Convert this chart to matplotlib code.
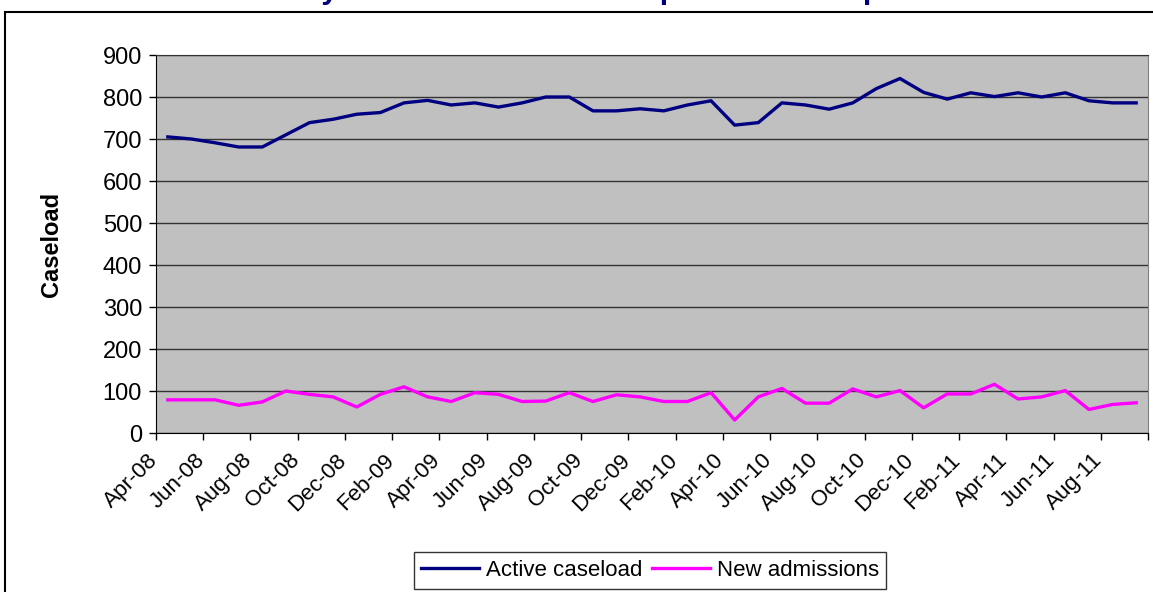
import numpy as np
import matplotlib
matplotlib.use('Agg')
import matplotlib.pyplot as plt
import matplotlib.transforms as mtransforms
from matplotlib.patches import Rectangle

plt.rcParams['font.family'] = ['Liberation Sans', 'DejaVu Sans']

# Data (monthly, Apr-08 to Sep-11)
months = ['Apr-08', 'May-08', 'Jun-08', 'Jul-08', 'Aug-08', 'Sep-08', 'Oct-08', 'Nov-08',
          'Dec-08', 'Jan-09', 'Feb-09', 'Mar-09', 'Apr-09', 'May-09', 'Jun-09', 'Jul-09',
          'Aug-09', 'Sep-09', 'Oct-09', 'Nov-09', 'Dec-09', 'Jan-10', 'Feb-10', 'Mar-10',
          'Apr-10', 'May-10', 'Jun-10', 'Jul-10', 'Aug-10', 'Sep-10', 'Oct-10', 'Nov-10',
          'Dec-10', 'Jan-11', 'Feb-11', 'Mar-11', 'Apr-11', 'May-11', 'Jun-11', 'Jul-11',
          'Aug-11', 'Sep-11']
active = [705, 700, 691, 681, 681, 710, 739, 747, 759, 763, 786, 792, 781, 786, 776, 786,
          800, 800, 767, 767, 772, 767, 781, 791, 733, 739, 786, 781, 771, 786, 820, 844,
          811, 795, 810, 801, 810, 800, 810, 791, 786, 786]
admissions = [79, 79, 79, 66, 74, 100, 92, 86, 62, 92, 110, 86, 75, 96, 92, 75,
              76, 96, 75, 91, 86, 75, 75, 96, 31, 86, 106, 71, 71, 105, 86, 101,
              60, 93, 93, 116, 81, 86, 101, 56, 68, 72]
y_ticks = [0, 100, 200, 300, 400, 500, 600, 700, 800, 900]

title = 'Monthly active caseload on Supervision compared to intake'

W, H = 1153, 592
fig = plt.figure(figsize=(W / 100, H / 100), dpi=100)
ax = fig.add_axes([156 / W, 1 - 433 / H, (1148 - 156) / W, (433 - 55) / H])
ax.set_facecolor('#C0C0C0')

x = np.arange(len(months))
ax.plot(x, active, color='#000080', lw=2.4, label='Active caseload')
ax.plot(x, admissions, color='#FF00FF', lw=2.4, label='New admissions')

ax.set_xlim(-0.5, len(months) - 0.5)
ax.set_ylim(0, 900)
ax.set_yticks(y_ticks)
ax.yaxis.grid(True, color='#333333', lw=1)
ax.set_axisbelow(True)
ax.tick_params(axis='y', length=5, width=1, labelsize=17, pad=5)

# tick marks between categories, labels on every second month
ax.set_xticks(np.arange(-0.5, len(months), 2))
ax.set_xticks(x[::2], minor=True)
ax.set_xticklabels(months[::2], minor=True, rotation=45, ha='right')
ax.tick_params(axis='x', which='major', length=5, width=1, labelbottom=False)
ax.tick_params(axis='x', which='minor', length=0, labelsize=16, pad=12)
shift = mtransforms.ScaledTranslation(-0.06, 0, fig.dpi_scale_trans)
for lab in ax.xaxis.get_minorticklabels():
    lab.set_transform(lab.get_transform() + shift)

ax.spines['left'].set_color('black')
ax.spines['bottom'].set_color('black')
ax.spines['right'].set_color('#808080')
ax.spines['top'].set_color('#333333')

ax.set_ylabel('Caseload', fontsize=17, fontweight='bold')
ax.yaxis.set_label_coords(-0.094, 0.5)

fig.legend(loc='upper center', bbox_to_anchor=(650 / W, 1 - 552 / H), ncol=2,
           fontsize=16, frameon=True, fancybox=False, edgecolor='black',
           handlelength=2.6, handletextpad=0.3, columnspacing=0.45,
           borderpad=0.35, borderaxespad=0)

# chart frame and the title, cut off at the top like the original
fig.add_artist(Rectangle((5 / W, -0.1), 1.2, 1.1 - 12 / H, transform=fig.transFigure,
                         fill=False, ec='black', lw=1.5))
fig.text(223 / W, 1 + 1 / H, title, ha='left', va='baseline', fontsize=21.6,
         fontweight='bold', color='#000080')

fig.savefig('out.png', dpi=100)
